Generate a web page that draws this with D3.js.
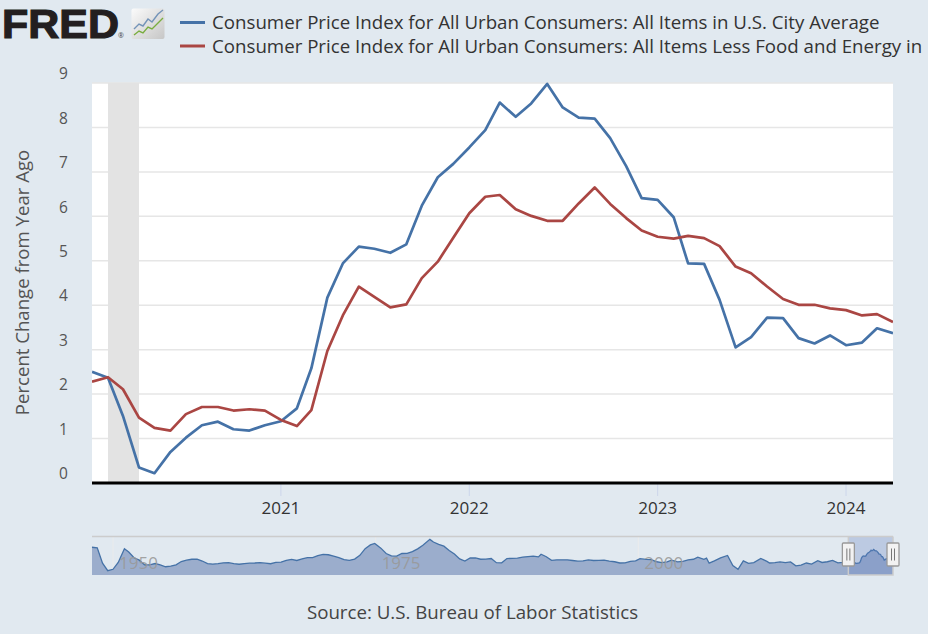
<!DOCTYPE html>
<html>
<head>
<meta charset="utf-8">
<script src="https://cdn.jsdelivr.net/npm/d3@7"></script>
<style>
  html, body { margin: 0; padding: 0; background: #E1E9F0; }
  svg { display: block; font-family: "Open Sans", "DejaVu Sans", sans-serif; }
</style>
</head>
<body>
<svg id="chart" width="928" height="634"></svg>
<script>
// ---------------- DATA ----------------
const seriesNames = [
  "Consumer Price Index for All Urban Consumers: All Items in U.S. City Average",
  "Consumer Price Index for All Urban Consumers: All Items Less Food and Energy in"
];
const startMonth = "2020-01";   // monthly observations from Jan 2020 to Apr 2024
const cpiAll = [2.50, 2.37, 1.51, 0.35, 0.22, 0.70, 1.02, 1.30, 1.38, 1.21, 1.18, 1.30,
                1.39, 1.68, 2.58, 4.17, 4.94, 5.32, 5.27, 5.18, 5.37, 6.24, 6.88, 7.18,
                7.55, 7.94, 8.56, 8.24, 8.54, 8.98, 8.45, 8.22, 8.20, 7.76, 7.13, 6.41,
                6.37, 5.98, 4.94, 4.93, 4.12, 3.05, 3.28, 3.72, 3.71, 3.26, 3.14, 3.32,
                3.10, 3.16, 3.48, 3.37];
const cpiCore = [2.28, 2.38, 2.11, 1.47, 1.24, 1.18, 1.55, 1.71, 1.71, 1.63, 1.66, 1.63,
                 1.42, 1.28, 1.64, 2.97, 3.77, 4.42, 4.19, 3.95, 4.02, 4.61, 4.98, 5.52,
                 6.07, 6.44, 6.48, 6.16, 6.01, 5.90, 5.90, 6.29, 6.65, 6.28, 5.96, 5.68,
                 5.54, 5.50, 5.56, 5.51, 5.33, 4.87, 4.72, 4.42, 4.14, 4.01, 4.01, 3.93,
                 3.89, 3.77, 3.80, 3.62];
const yTicks = [0, 1, 2, 3, 4, 5, 6, 7, 8, 9];
const xTickYears = [2021, 2022, 2023, 2024];
const recession = ["2020-02", "2020-04"];

// navigator (long history of the all-items series, before 2020)
const navDates = ["1948-01","1948-07","1949-01","1949-07","1950-01","1950-07","1951-02","1951-07","1952-01","1952-07",
  "1953-01","1953-07","1954-01","1954-07","1955-01","1955-07","1956-01","1956-07","1957-01","1957-07",
  "1958-01","1958-07","1959-01","1959-07","1960-01","1960-07","1961-01","1961-07","1962-01","1962-07",
  "1963-01","1963-07","1964-01","1964-07","1965-01","1965-07","1966-01","1966-07","1967-01","1967-07",
  "1968-01","1968-07","1969-01","1969-07","1970-01","1970-07","1971-01","1971-07","1972-01","1972-07",
  "1973-01","1973-07","1974-01","1974-07","1974-12","1975-07","1976-01","1976-07","1977-01","1977-07",
  "1978-01","1978-07","1979-01","1979-07","1980-03","1980-07","1981-01","1981-07","1982-01","1982-07",
  "1983-01","1983-07","1984-01","1984-07","1985-01","1985-07","1986-01","1986-07","1987-01","1987-07",
  "1988-01","1988-07","1989-01","1989-07","1990-01","1990-07","1990-10","1991-04","1991-10","1992-04",
  "1992-10","1993-04","1993-10","1994-04","1994-10","1995-04","1995-10","1996-04","1996-10","1997-04",
  "1997-10","1998-04","1998-10","1999-04","1999-10","2000-03","2000-10","2001-04","2001-10","2002-04",
  "2002-10","2003-03","2003-10","2004-04","2004-10","2005-04","2005-09","2006-04","2006-07","2006-10",
  "2007-04","2007-11","2008-07","2009-01","2009-07","2010-01","2010-07","2011-01","2011-09","2012-04",
  "2012-07","2013-01","2013-07","2014-01","2014-07","2015-01","2015-07","2016-01","2016-07","2017-02",
  "2017-07","2018-01","2018-07","2019-01","2019-07","2019-12"];
const navValues = [10.2, 9.9, 1.3, -2.9, -2.1, 1.7, 9.4, 7.5, 4.3, 3.0,
  0.4, 0.4, 1.1, 0.3, -0.7, -0.4, 0.4, 2.2, 3.0, 3.5,
  3.6, 2.5, 1.1, 0.8, 1.0, 1.5, 1.6, 1.1, 0.7, 1.1,
  1.3, 1.4, 1.6, 1.3, 1.0, 1.7, 1.9, 2.9, 3.4, 2.8,
  3.7, 4.4, 4.4, 5.5, 6.2, 6.0, 5.3, 4.4, 3.3, 2.9,
  3.6, 5.7, 9.4, 11.5, 12.3, 9.7, 6.7, 5.4, 5.2, 6.7,
  6.8, 7.8, 9.3, 11.3, 14.6, 13.1, 11.8, 10.8, 8.4, 6.4,
  3.7, 2.5, 4.2, 4.2, 3.5, 3.6, 3.9, 1.6, 1.5, 3.9,
  4.0, 4.1, 4.7, 5.0, 5.2, 4.8, 6.3, 4.9, 2.9, 3.2,
  3.2, 3.2, 2.8, 2.4, 2.6, 3.1, 2.8, 2.9, 3.0, 2.5,
  2.1, 1.4, 1.5, 2.3, 2.6, 3.8, 3.4, 3.3, 2.1, 1.6,
  2.0, 3.0, 2.0, 2.3, 3.2, 3.5, 4.7, 3.5, 4.1, 1.3,
  2.6, 4.3, 5.6, 0.0, -2.1, 2.6, 1.2, 1.6, 3.9, 2.3,
  1.4, 1.6, 2.0, 1.6, 2.0, -0.2, 0.2, 1.4, 0.8, 2.7,
  1.7, 2.1, 2.9, 1.5, 1.8, 2.3];
const navTickYears = [1950, 1975, 2000];
const navStart = "1948-01", navEnd = "2024-04";
const yAxisTitle = "Percent Change from Year Ago";
const sourceText = "Source: U.S. Bureau of Labor Statistics";
const colors = ["#4572A7", "#AA4643"];

// ---------------- HELPERS ----------------
const parseM = d3.timeParse("%Y-%m");
const months = cpiAll.map((_, i) => d3.timeMonth.offset(parseM(startMonth), i));

const svg = d3.select("#chart");
const W = 928, H = 634;
svg.append("rect").attr("width", W).attr("height", H).attr("fill", "#E1E9F0");

// ---------------- MAIN CHART ----------------
const plot = {left: 92, right: 893, top: 83, bottom: 483};
const x = d3.scaleTime().domain([months[0], months[months.length - 1]]).range([plot.left, plot.right]);
const y = d3.scaleLinear().domain([0, 9]).range([plot.bottom, plot.top]);

svg.append("rect")
  .attr("x", plot.left).attr("y", plot.top)
  .attr("width", plot.right - plot.left).attr("height", plot.bottom - plot.top)
  .attr("fill", "#ffffff");

// gridlines
svg.append("g").selectAll("line").data(yTicks.filter(d => d > 0)).join("line")
  .attr("x1", plot.left).attr("x2", plot.right)
  .attr("y1", d => y(d)).attr("y2", d => y(d))
  .attr("stroke", "#e6e6e6").attr("stroke-width", 1.5);

// recession band
svg.append("rect")
  .attr("x", x(parseM(recession[0])))
  .attr("width", x(parseM(recession[1])) - x(parseM(recession[0])))
  .attr("y", plot.top).attr("height", plot.bottom - plot.top)
  .attr("fill", "#e3e3e3");

// y tick labels
svg.append("g").selectAll("text").data(yTicks).join("text")
  .attr("x", 63.5).attr("y", d => y(d) - 3.8)
  .attr("text-anchor", "middle")
  .attr("font-size", 15.5).attr("fill", "#555555")
  .text(d => d);

// y axis title
svg.append("text")
  .attr("transform", "translate(29,282.5) rotate(-90)")
  .attr("text-anchor", "middle")
  .attr("font-size", 18.6).attr("fill", "#555555")
  .text(yAxisTitle);

// x axis ticks & labels
const xTickDates = xTickYears.map(yr => new Date(yr, 0, 1));
svg.append("g").selectAll("line").data(xTickDates).join("line")
  .attr("x1", d => x(d)).attr("x2", d => x(d))
  .attr("y1", plot.bottom).attr("y2", plot.bottom + 13)
  .attr("stroke", "#ccd6eb").attr("stroke-width", 1);
svg.append("g").selectAll("text").data(xTickDates).join("text")
  .attr("x", d => x(d)).attr("y", 514)
  .attr("text-anchor", "middle")
  .attr("font-size", 17).attr("fill", "#333333")
  .text(d => d3.timeFormat("%Y")(d));

// series lines
const clip = svg.append("clipPath").attr("id", "plotclip").append("rect")
  .attr("x", plot.left).attr("y", plot.top - 3)
  .attr("width", plot.right - plot.left).attr("height", plot.bottom - plot.top + 6);
const lineGen = d3.line().x((d, i) => x(months[i])).y(d => y(d));
[cpiAll, cpiCore].forEach((s, k) => {
  svg.append("path").datum(s)
    .attr("d", lineGen)
    .attr("clip-path", "url(#plotclip)")
    .attr("fill", "none").attr("stroke", colors[k])
    .attr("stroke-width", 2.7).attr("stroke-linejoin", "round");
});

// x axis line
svg.append("line")
  .attr("x1", plot.left).attr("x2", plot.right)
  .attr("y1", plot.bottom).attr("y2", plot.bottom)
  .attr("stroke", "#000000").attr("stroke-width", 3);

// ---------------- NAVIGATOR ----------------
const nav = {left: 92, right: 893, top: 536.5, bottom: 575};
const navSeries = navDates.map((d, i) => ({date: parseM(d), value: navValues[i]}))
  .concat(months.map((m, i) => ({date: m, value: cpiAll[i]})));
const nx = d3.scaleTime().domain([parseM(navStart), parseM(navEnd)]).range([nav.left, nav.right]);
const ny = d3.scaleLinear().domain([-5.3, 16.2]).range([nav.bottom, nav.top]);

const navTickDates = navTickYears.map(yr => new Date(yr, 0, 1));
svg.append("g").selectAll("line").data(navTickDates).join("line")
  .attr("x1", d => nx(d)).attr("x2", d => nx(d))
  .attr("y1", nav.top).attr("y2", nav.bottom)
  .attr("stroke", "#ebebeb").attr("stroke-width", 1);

svg.append("path").datum(navSeries)
  .attr("d", d3.area().x(d => nx(d.date)).y0(nav.bottom).y1(d => ny(d.value)))
  .attr("fill", "#9badcc");
svg.append("path").datum(navSeries)
  .attr("d", d3.line().x(d => nx(d.date)).y(d => ny(d.value)))
  .attr("fill", "none").attr("stroke", "#4572A7").attr("stroke-width", 1.3);

svg.append("g").selectAll("text").data(navTickDates).join("text")
  .attr("x", d => nx(d) + 6).attr("y", 569)
  .attr("font-size", 17).attr("fill", "#999999").attr("fill-opacity", 0.9)
  .text(d => d3.timeFormat("%Y")(d));

// selected-range mask
const selL = nx(months[0]), selR = nx(months[months.length - 1]);
svg.append("rect")
  .attr("x", selL).attr("y", nav.top).attr("width", selR - selL).attr("height", nav.bottom - nav.top)
  .attr("fill", "rgb(102,133,194)").attr("fill-opacity", 0.3);

// outline
svg.append("path")
  .attr("d", `M${nav.left},${nav.top}H${nav.right}M${selL},${nav.top}V${nav.bottom}H${selR}V${nav.top}`)
  .attr("fill", "none").attr("stroke", "#cccccc").attr("stroke-width", 1.5);

// handles
[selL, selR].forEach(cx => {
  const g = svg.append("g").attr("transform", `translate(${cx},554.5)`);
  g.append("rect").attr("x", -6).attr("y", -11.5).attr("width", 12).attr("height", 23)
    .attr("rx", 1).attr("fill", "#f2f2f2").attr("stroke", "#999999").attr("stroke-width", 1.3);
  g.append("line").attr("x1", -1.5).attr("x2", -1.5).attr("y1", -6).attr("y2", 6)
    .attr("stroke", "#777").attr("stroke-width", 1);
  g.append("line").attr("x1", 1.5).attr("x2", 1.5).attr("y1", -6).attr("y2", 6)
    .attr("stroke", "#777").attr("stroke-width", 1);
});

// source
svg.append("text").attr("x", 472.5).attr("y", 619)
  .attr("text-anchor", "middle").attr("font-size", 18.7).attr("fill", "#444444")
  .text(sourceText);

// ---------------- LEGEND ----------------
seriesNames.forEach((name, k) => {
  const ly = 22.5 + k * 23.5;
  svg.append("line").attr("x1", 180).attr("x2", 205).attr("y1", ly).attr("y2", ly)
    .attr("stroke", colors[k]).attr("stroke-width", 3);
  svg.append("text").attr("x", 212).attr("y", ly + 6.7)
    .attr("font-size", 18.7).attr("fill", "#333333")
    .text(name);
});

// ---------------- FRED LOGO ----------------
const logo = svg.append("g");
logo.append("text").attr("x", 2).attr("y", 37.5)
  .attr("font-family", "'Liberation Sans', Arial, sans-serif")
  .attr("font-weight", "bold").attr("font-size", 41)
  .attr("textLength", 117).attr("lengthAdjust", "spacingAndGlyphs")
  .attr("fill", "#231f20").attr("stroke", "#231f20").attr("stroke-width", 1.2)
  .text("FRED");
logo.append("text").attr("x", 118).attr("y", 38).attr("font-size", 7).attr("fill", "#444").text("®");
const grad = svg.append("defs").append("linearGradient").attr("id", "iconGrad")
  .attr("x1", "0").attr("y1", "0").attr("x2", "1").attr("y2", "1");
grad.append("stop").attr("offset", "0").attr("stop-color", "#fbfbfb");
grad.append("stop").attr("offset", "1").attr("stop-color", "#c6c6c6");
logo.append("rect").attr("x", 131.5).attr("y", 8.5).attr("width", 33).attr("height", 30.5)
  .attr("rx", 2).attr("fill", "url(#iconGrad)");
logo.append("path").attr("d", "M134,29 L139,24 L143,26 L148,19 L152,22 L158,14 L163,10")
  .attr("fill", "none").attr("stroke", "#7393b8").attr("stroke-width", 1.4);
logo.append("path").attr("d", "M134,35 L139,31 L143,33 L148,27 L152,29 L158,23 L163,18")
  .attr("fill", "none").attr("stroke", "#79ad3f").attr("stroke-width", 1.4);
</script>
</body>
</html>
